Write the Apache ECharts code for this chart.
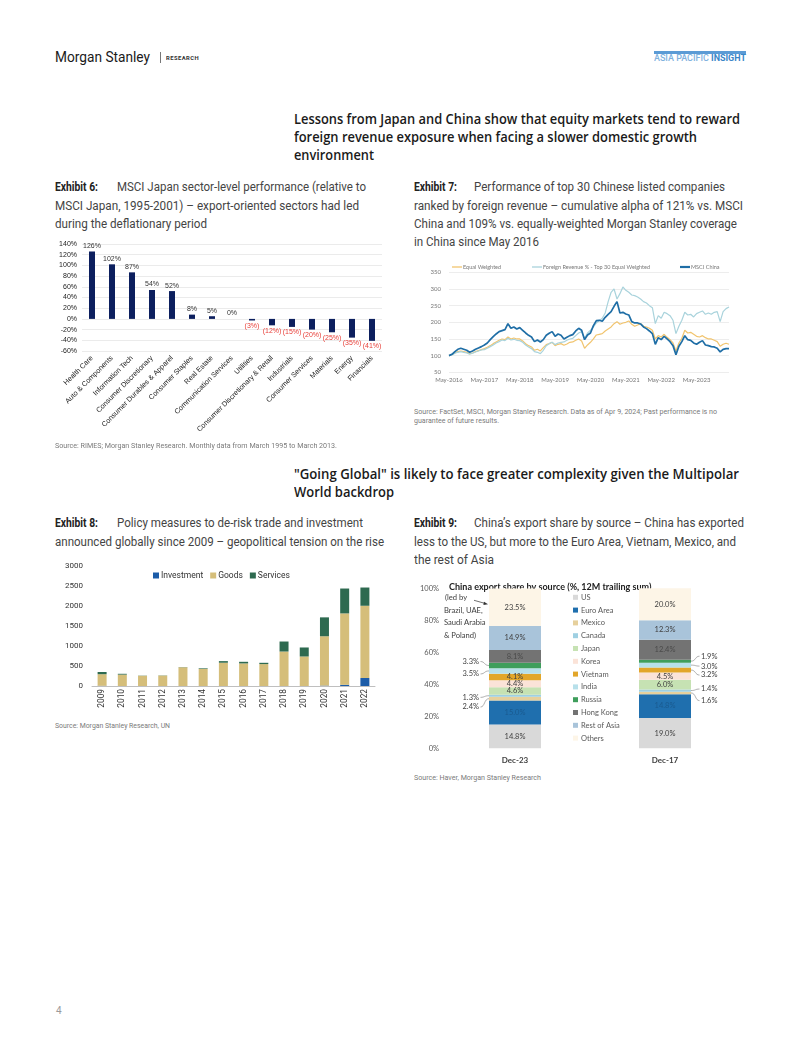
<!DOCTYPE html>
<html><head><meta charset="utf-8">
<script src="https://cdn.jsdelivr.net/npm/echarts/dist/echarts.min.js"></script>
<style>
html,body{margin:0;padding:0;background:#fff;}
body{width:802px;height:1037px;position:relative;overflow:hidden;}
.t{position:absolute;white-space:nowrap;transform-origin:0 50%;}
.c{position:absolute;}
</style></head><body>
<div id="c6" class="c" style="left:50px;top:232px;width:350px;height:215px"></div>
<div id="c7" class="c" style="left:410px;top:258px;width:340px;height:130px"></div>
<div id="c8" class="c" style="left:50px;top:555px;width:335px;height:165px"></div>
<div id="c9" class="c" style="left:410px;top:575px;width:340px;height:195px"></div>
<script>
// ---------------- DATA ----------------
// Exhibit 6
const ex6Categories = ['Health Care','Auto & Components','Information Tech','Consumer Discretionary','Consumer Durables & Apparel','Consumer Staples','Real Estate','Communication Services','Utilities','Consumer Discretionary & Retail','Industrials','Consumer Services','Materials','Energy','Financials'];
const ex6Values = [126,102,87,54,52,8,5,0,-3,-12,-15,-20,-25,-35,-41];

// Exhibit 7 (monthly, May-2016 .. Apr-2024)
const ex7EqualWeighted = [
 100,103,108,112,114,112,110,106,
 108,112,115,118,121,125,130,136,141,146,150,148,
 156,150,153,150,150,144,136,130,126,116,119,114,
 124,133,136,140,130,134,136,131,135,140,141,146,
 150,144,122,132,140,150,162,164,166,174,180,186,
 196,202,194,198,200,204,194,188,192,196,188,186,
 182,176,150,160,156,164,155,148,138,114,138,152,
 176,168,170,164,158,156,160,154,150,150,146,142,
 128,134,137,134];
const ex7ForeignRevenue = [
 100,102,107,110,112,110,108,104,
 107,111,114,117,118,122,127,132,138,142,147,145,
 152,147,149,146,145,140,132,126,121,112,110,106,
 116,130,136,140,133,138,140,141,146,150,152,160,
 168,172,152,168,176,186,198,205,212,228,262,290,
 300,270,286,306,296,290,282,280,276,270,262,258,
 250,244,196,220,212,230,226,220,206,166,188,206,
 230,222,224,216,226,230,234,224,228,224,230,232,
 202,232,241,246];
const ex7MsciChina = [
 100,104,112,119,122,119,116,110,
 114,119,123,127,132,138,148,157,165,172,175,178,
 196,182,186,180,184,176,168,161,156,142,147,141,
 148,161,167,172,158,165,161,150,155,160,163,174,
 182,176,148,162,168,190,205,206,203,215,224,232,
 248,262,228,230,225,222,202,198,198,195,186,181,
 174,166,134,154,148,158,150,142,130,103,128,142,
 160,148,146,138,134,140,145,132,130,127,126,122,
 111,119,121,121];
const ex7StartYear = 2016, ex7StartMonth = 4; // May
const ex7YTicks = [50,100,150,200,250,300,350];

// Exhibit 8
const ex8Years = ['2009','2010','2011','2012','2013','2014','2015','2016','2017','2018','2019','2020','2021','2022'];
const ex8Investment = [5,0,0,0,0,0,0,0,0,0,0,10,30,200];
const ex8Goods = [290,285,255,260,468,428,582,565,548,862,738,1234,1785,1806];
const ex8Services = [55,20,5,5,5,15,40,40,32,250,225,472,622,456];

// Exhibit 9
const ex9Categories = ['Dec-23','Dec-17'];
const ex9Names = ['US','Euro Area','Mexico','Canada','Japan','Korea','Vietnam','India','Russia','Hong Kong','Rest of Asia','Others'];
const ex9Dec23 = [14.8,15.0,2.4,1.3,4.6,4.4,4.1,3.5,3.3,8.1,14.9,23.5];
const ex9Dec17 = [19.0,14.8,1.6,1.4,6.0,4.5,3.2,3.0,1.9,12.4,12.3,20.0];

// ---------------- PAGE TEXT ----------------
function T(x, yc, html, o){
  o = o || {};
  const d = document.createElement('div'); d.className = 't';
  d.innerHTML = html;
  const fs = o.fs || 12; const lh = Math.round(fs*1.3);
  d.style.left = x+'px'; d.style.top = (yc - lh/2)+'px';
  d.style.fontSize = fs+'px'; d.style.lineHeight = lh+'px';
  d.style.fontFamily = o.ff || 'Roboto';
  d.style.fontWeight = o.fw || 400;
  d.style.color = o.c || '#333';
  if (o.ls) d.style.letterSpacing = o.ls+'px';
  document.body.appendChild(d);
  if (o.w){ const nat = d.getBoundingClientRect().width; if (nat>0) d.style.transform = 'scaleX('+(o.w/nat)+')'; }
  return d;
}
function box(x,y,w,h,c){const d=document.createElement('div');d.style.cssText=`position:absolute;left:${x}px;top:${y}px;width:${w}px;height:${h}px;background:${c}`;document.body.appendChild(d);}

T(55,57,'Morgan Stanley',{fs:14,ff:'Roboto',c:'#1a1a1a',w:95});
box(160,52,1,11,'#777');
T(166,58,'RESEARCH',{fs:5.5,fw:700,c:'#333',w:33,ls:0.4});
box(654,51,92,2.5,'#5b9bd5');
T(654,58.5,'<span style="color:#7fb2de">ASIA PACIFIC </span><span style="color:#3a86c8;font-weight:700">INSIGHT</span>',{fs:8.5,fw:500,w:92});

const H = {fs:14,ff:'"Open Sans"',fw:600,c:'#1a1a1a'};
T(294,119,'Lessons from Japan and China show that equity markets tend to reward',{...H,w:446});
T(294,137,'foreign revenue exposure when facing a slower domestic growth',{...H,w:403});
T(294,155,'environment',{...H,w:80});
T(294,474,'"Going Global" is likely to face greater complexity given the Multipolar',{...H,w:445});
T(294,492,'World backdrop',{...H,w:100});

const EB = {fs:12.5,fw:700,c:'#222'};
const ET = {fs:12.5,fw:400,c:'#444'};
T(55,187,'Exhibit 6:',{...EB,w:43});
T(117,187,'MSCI Japan sector-level performance (relative to',{...ET,w:249});
T(55,205.5,'MSCI Japan, 1995-2001) – export-oriented sectors had led',{...ET,w:304});
T(55,224,'during the deflationary period',{...ET,w:152});
T(414,187,'Exhibit 7:',{...EB,w:43});
T(474,187,'Performance of top 30 Chinese listed companies',{...ET,w:251});
T(414,205.5,'ranked by foreign revenue – cumulative alpha of 121% vs. MSCI',{...ET,w:329});
T(414,224,'China and 109% vs. equally-weighted Morgan Stanley coverage',{...ET,w:323});
T(414,242,'in China since May 2016',{...ET,w:125});
T(55,523,'Exhibit 8:',{...EB,w:43});
T(117,523,'Policy measures to de-risk trade and investment',{...ET,w:246});
T(55,542,'announced globally since 2009 – geopolitical tension on the rise',{...ET,w:329});
T(414,523,'Exhibit 9:',{...EB,w:43});
T(474,523,'China\u2019s export share by source – China has exported',{...ET,w:270});
T(414,542,'less to the US, but more to the Euro Area, Vietnam, Mexico, and',{...ET,w:322});
T(414,560,'the rest of Asia',{...ET,w:80});

const S = {fs:6.5,c:'#7a7a7a'};
T(55,446,'Source: RIMES; Morgan Stanley Research. Monthly data from March 1995 to March 2013.',{...S,w:282});
T(414,412,'Source: FactSet, MSCI, Morgan Stanley Research. Data as of Apr 9, 2024; Past performance is no',{...S,w:303});
T(414,421,'guarantee of future results.',{...S,w:85});
T(55,726,'Source: Morgan Stanley Research, UN',{...S,w:115});
T(414,778,'Source: Haver, Morgan Stanley Research',{...S,w:127});
T(56,1010,'4',{fs:10,c:'#9a9a9a'});

// ---------------- EXHIBIT 6 ----------------
const c6 = echarts.init(document.getElementById('c6'));
c6.setOption({
  animation:false,
  grid:{left:32,top:12,width:300,height:107,containLabel:false,outerBoundsMode:'none'},
  xAxis:{type:'category',data:ex6Categories,axisLine:{show:false},axisTick:{show:false},
    axisLabel:{rotate:45,interval:0,fontSize:7.2,color:'#222',margin:6,fontFamily:'Liberation Sans'}},
  yAxis:{type:'value',min:-60,max:140,interval:20,
    axisLabel:{formatter:'{value}%',fontSize:7,color:'#222',margin:5,fontFamily:'Liberation Sans'},
    axisLine:{show:false},axisTick:{show:false},splitLine:{lineStyle:{color:'#e6e6e6',width:0.8}}},
  series:[{type:'bar',barWidth:6,itemStyle:{color:'#0c1f5e'},
    data:ex6Values.map(v=>({value:v,label:{position:v<0?'bottom':'top',color:v<0?'#e8403a':'#333'}})),
    label:{show:true,distance:2,fontSize:7,fontFamily:'Liberation Sans',
      formatter:p=>p.value<0?'('+(-p.value)+'%)':p.value+'%'}}]
});

// ---------------- EXHIBIT 7 ----------------
const MONTHS=['Jan','Feb','Mar','Apr','May','Jun','Jul','Aug','Sep','Oct','Nov','Dec'];
const ex7Dates=[];
for(let i=0;i<ex7MsciChina.length;i++){const k=ex7StartMonth+i;ex7Dates.push(MONTHS[k%12]+'-'+(ex7StartYear+Math.floor(k/12)));}
const c7 = echarts.init(document.getElementById('c7'));
const lgTxt = {fontSize:5.5,color:'#777',fontFamily:'Lato',padding:[0,0,0,-4]};
c7.setOption({
  animation:false,
  grid:{left:39,top:14.3,width:280,height:100,containLabel:false,outerBoundsMode:'none'},
  legend:[
    {data:['Equal Weighted'],left:42,top:6,icon:'rect',itemWidth:10,itemHeight:1.3,textStyle:lgTxt,padding:0},
    {data:['Foreign Revenue % - Top 30 Equal Weighted'],left:122,top:6,icon:'rect',itemWidth:10,itemHeight:1.3,textStyle:lgTxt,padding:0},
    {data:['MSCI China'],left:270,top:6,icon:'rect',itemWidth:10,itemHeight:2.2,textStyle:lgTxt,padding:0}
  ],
  xAxis:{type:'category',data:ex7Dates,boundaryGap:false,axisLine:{show:false},axisTick:{show:false},
    axisLabel:{interval:(i)=>i%12===0,fontSize:6,color:'#777',margin:5,fontFamily:'Lato'}},
  yAxis:{type:'value',min:ex7YTicks[0],max:ex7YTicks[ex7YTicks.length-1],interval:50,
    axisLabel:{fontSize:6,color:'#777',margin:8,fontFamily:'Lato'},
    axisLine:{show:false},axisTick:{show:false},splitLine:{lineStyle:{color:'#e9e9e9',width:0.8}}},
  series:[
    {name:'Equal Weighted',type:'line',data:ex7EqualWeighted,symbol:'none',lineStyle:{color:'#f1c46e',width:1.2},itemStyle:{color:'#f1c46e'}},
    {name:'Foreign Revenue % - Top 30 Equal Weighted',type:'line',data:ex7ForeignRevenue,symbol:'none',lineStyle:{color:'#a9d3dc',width:1.2},itemStyle:{color:'#a9d3dc'}},
    {name:'MSCI China',type:'line',data:ex7MsciChina,symbol:'none',lineStyle:{color:'#1f6ea6',width:1.7},itemStyle:{color:'#1f6ea6'}}
  ]
});

// ---------------- EXHIBIT 8 ----------------
const c8 = echarts.init(document.getElementById('c8'));
const ex8Colors = {Investment:'#1c5ca8',Goods:'#d5be7a',Services:'#2e6a50'};
c8.setOption({
  animation:false,
  grid:{left:42,top:11,width:283,height:120,containLabel:false,outerBoundsMode:'none'},
  legend:{data:['Investment','Goods','Services'],left:103,top:16,icon:'rect',itemWidth:6,itemHeight:6,itemGap:7,padding:0,
    textStyle:{fontSize:8.5,color:'#333',fontFamily:'Roboto',padding:[0,0,0,-3]}},
  xAxis:{type:'category',data:ex8Years,axisLine:{lineStyle:{color:'#bfbfbf',width:1}},axisTick:{show:false},
    axisLabel:{rotate:90,interval:0,fontSize:8.3,color:'#333',margin:3,fontFamily:'Roboto'}},
  yAxis:{type:'value',min:0,max:3000,interval:500,
    axisLabel:{formatter:v=>String(v),fontSize:8,color:'#333',margin:9,fontFamily:'Roboto'},
    axisLine:{show:false},axisTick:{show:false},splitLine:{show:false}},
  series:[
    {name:'Investment',type:'bar',stack:'a',barWidth:9,data:ex8Investment,itemStyle:{color:ex8Colors.Investment}},
    {name:'Goods',type:'bar',stack:'a',barWidth:9,data:ex8Goods,itemStyle:{color:ex8Colors.Goods}},
    {name:'Services',type:'bar',stack:'a',barWidth:9,data:ex8Services,itemStyle:{color:ex8Colors.Services}}
  ]
});

// ---------------- EXHIBIT 9 ----------------
const ex9Colors = ['#d9d9d9','#1f6fae','#e6d09c','#9fd0e2','#c6e2b3','#fbe3d8','#e2a62a','#b7e0ea','#3f9e5c','#737373','#a9c4da','#fdf5e7'];
const ex9LabelColors = {'Euro Area':'#1a5a8f','Hong Kong':'#4a4a4a'};
const c9 = echarts.init(document.getElementById('c9'));
const barW9 = 52;
const f9 = 'Lato';
c9.setOption({
  animation:false,
  grid:{left:30,top:13.3,width:300,height:160,containLabel:false,outerBoundsMode:'none'},
  legend:{orient:'vertical',left:163,top:18.3,icon:'rect',itemWidth:5,itemHeight:5,itemGap:4.8,padding:0,
    data:ex9Names,textStyle:{fontSize:7.5,color:'#595959',fontFamily:f9,lineHeight:8,padding:[0,0,0,-2]}},
  xAxis:{type:'category',data:ex9Categories,axisLine:{show:false},axisTick:{show:false},
    axisLabel:{fontSize:8,fontWeight:'bold',color:'#404040',margin:8,fontFamily:f9}},
  yAxis:{type:'value',min:0,max:100,interval:20,
    axisLabel:{formatter:'{value}%',fontSize:7.5,color:'#595959',margin:1,fontFamily:f9},
    axisLine:{show:false},axisTick:{show:false},splitLine:{show:false}},
  series:ex9Names.map((n,i)=>({
    name:n,type:'bar',stack:'s',barWidth:barW9,itemStyle:{color:ex9Colors[i]},
    data:[ex9Dec23[i],ex9Dec17[i]],
    label:{show:true,position:'inside',fontSize:7.5,fontFamily:f9,color:ex9LabelColors[n]||'#404040',
      formatter:p=>p.value>=4?p.value.toFixed(1)+'%':''}
  }))
});
// outside labels with leader lines + annotation
(function(){
  const g = [];
  const offs = {Russia:[-4,-5],India:[3,1],Vietnam:[0,5],Canada:[1.6,-1.5],Mexico:[8.3,7.7]};
  const sets = [ex9Dec23, ex9Dec17];
  sets.forEach((vals,ci)=>{
    let cum = 0;
    vals.forEach((v,i)=>{
      const mid = cum + v/2; cum += v;
      if (v >= 4) return;
      const p = c9.convertToPixel({xAxisIndex:0,yAxisIndex:0},[ci,mid]);
      const off = (offs[ex9Names[i]]||[0,0])[ci];
      const ly = p[1] + off;
      const txt = v.toFixed(1)+'%';
      if (ci===0){
        const bx = p[0]-barW9/2, lx = bx-10;
        g.push({type:'text',style:{x:lx,y:ly,text:txt,fontSize:7.5,fontFamily:f9,fill:'#404040',align:'right',verticalAlign:'middle'}});
        g.push({type:'bezierCurve',shape:{x1:lx+1.5,y1:ly,cpx1:bx-4,cpy1:ly,cpx2:bx-5,cpy2:p[1],x2:bx,y2:p[1]},style:{stroke:'#8c8c8c',lineWidth:0.7,fill:null}});
      } else {
        const bx = p[0]+barW9/2, lx = bx+10;
        g.push({type:'text',style:{x:lx,y:ly,text:txt,fontSize:7.5,fontFamily:f9,fill:'#404040',align:'left',verticalAlign:'middle'}});
        g.push({type:'bezierCurve',shape:{x1:bx,y1:p[1],cpx1:bx+5,cpy1:p[1],cpx2:bx+4,cpy2:ly,x2:lx-1.5,y2:ly},style:{stroke:'#8c8c8c',lineWidth:0.7,fill:null}});
      }
    });
  });
  // chart title
  g.push({type:'text',style:{x:39,y:12,text:'China export share by source (%, 12M trailing sum)',fontSize:9,fontWeight:'bold',fontFamily:f9,fill:'#222',verticalAlign:'middle'}});
  // annotation
  const ann = ['(led by','Brazil, UAE,','Saudi Arabia','& Poland)'];
  const annY = [23,36,48,61];
  ann.forEach((s,k)=>g.push({type:'text',style:{x:k===0?35:34,y:annY[k],text:s,fontSize:7.6,fontFamily:f9,fill:'#404040',verticalAlign:'middle'}}));
  const tip = c9.convertToPixel({xAxisIndex:0,yAxisIndex:0},[0,90]);
  const tx = tip[0]-barW9/2-1, ty = tip[1];
  g.push({type:'line',shape:{x1:tx-14,y1:ty-4,x2:tx-2,y2:ty-0.6},style:{stroke:'#333',lineWidth:0.7}});
  g.push({type:'polygon',shape:{points:[[tx,ty],[tx-4,ty-2.6],[tx-4.6,ty+0.6]]},style:{fill:'#333'}});
  c9.setOption({graphic:g});
})();
</script>
</body></html>
